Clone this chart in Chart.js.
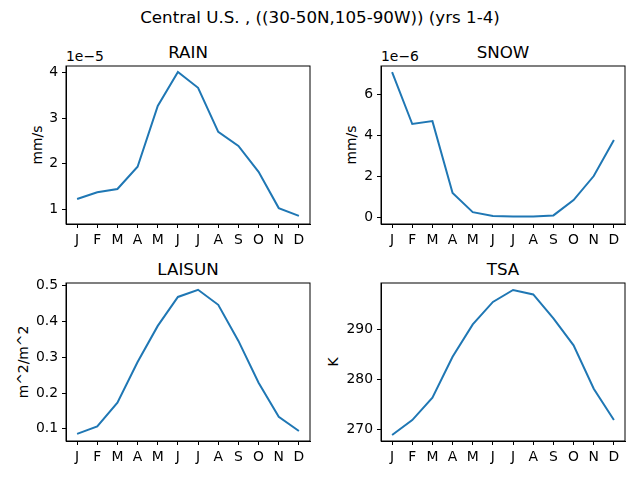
<!DOCTYPE html>
<html>
<head>
<meta charset="utf-8">
<script src="https://cdn.jsdelivr.net/npm/chart.js@4/dist/chart.umd.min.js"></script>
<style>
  body { margin: 0; background: #fff; }
  #wrap { position: relative; width: 640px; height: 480px; font-family: 'DejaVu Sans', sans-serif; color: #000; }
  canvas { position: absolute; left: 0; top: 0; }
  .t { position: absolute; white-space: nowrap; transform: translate(-50%, -50%); }
  .e { position: absolute; white-space: nowrap; font-size: 13.9px; transform: translateY(-50%); }
  .yl { position: absolute; white-space: nowrap; font-size: 13.9px; transform: translate(-50%, -50%) rotate(-90deg); }
</style>
</head>
<body>
<div id="wrap">
  <div class="t" style="left:320px;top:17px;font-size:16.7px">Central U.S. , ((30-50N,105-90W)) (yrs 1-4)</div>
  <div class="t" style="left:188px;top:52px;font-size:16.7px">RAIN</div>
  <div class="t" style="left:503px;top:52px;font-size:16.7px">SNOW</div>
  <div class="t" style="left:188px;top:269px;font-size:16.7px">LAISUN</div>
  <div class="t" style="left:503px;top:269px;font-size:16.7px">TSA</div>
  <div class="e" style="left:66px;top:56px">1e−5</div>
  <div class="e" style="left:381px;top:56px">1e−6</div>
  <div class="yl" style="left:37px;top:145px">mm/s</div>
  <div class="yl" style="left:351px;top:145px">mm/s</div>
  <div class="yl" style="left:23px;top:362px">m^2/m^2</div>
  <div class="yl" style="left:333px;top:362px">K</div>
  <canvas id="c0" width="640" height="480"></canvas>
  <canvas id="c1" width="640" height="480"></canvas>
  <canvas id="c2" width="640" height="480"></canvas>
  <canvas id="c3" width="640" height="480"></canvas>
</div>
<script>
; (function () {
    'use strict'

    // ── Data ───────────────────────────────────────────────────────────────────
    const months = ['J', 'F', 'M', 'A', 'M', 'J', 'J', 'A', 'S', 'O', 'N', 'D']
    const rain = [1.22e-5, 1.37e-5, 1.44e-5, 1.93e-5, 3.27e-5, 4.02e-5, 3.67e-5, 2.70e-5, 2.39e-5, 1.82e-5, 1.02e-5, 0.85e-5]
    const snow = [7.07e-6, 4.54e-6, 4.68e-6, 1.17e-6, 0.24e-6, 0.05e-6, 0.03e-6, 0.03e-6, 0.08e-6, 0.83e-6, 2.0e-6, 3.76e-6]
    const laisun = [0.086, 0.107, 0.173, 0.287, 0.388, 0.469, 0.489, 0.447, 0.346, 0.229, 0.134, 0.094]
    const tsa = [268.8, 271.8, 276.3, 284.5, 291.0, 295.5, 297.9, 297.0, 292.2, 286.8, 278.1, 271.8]

    const frame = {
        id: 'frame',
        afterDraw(chart) {
            const a = chart.chartArea, ctx = chart.ctx
            ctx.save(); ctx.strokeStyle = '#000'; ctx.lineWidth = 1
            ctx.strokeRect(a.left, a.top, a.right - a.left, a.bottom - a.top)
            ctx.restore()
        }
    }

    const tickFont = { family: 'DejaVu Sans', size: 13.9 }

    function panel(id, values, pad, y) {
        new Chart(document.getElementById(id), {
            type: 'line',
            data: {
                labels: months.map((m, i) => i),
                datasets: [{
                    data: values.map((v, i) => ({ x: i, y: v })),
                    borderColor: '#1f77b4', borderWidth: 2,
                    pointRadius: 0, tension: 0, fill: false
                }]
            },
            options: {
                responsive: false, animation: false, events: [],
                layout: { padding: pad },
                plugins: { legend: { display: false }, tooltip: { enabled: false } },
                scales: {
                    x: {
                        type: 'linear', min: -0.55, max: 11.55,
                        afterBuildTicks: s => { s.ticks = months.map((m, i) => ({ value: i })) },
                        afterFit: s => { s.height = 30 },
                        ticks: { color: '#000', font: tickFont, callback: v => months[v], maxRotation: 0, autoSkip: false, padding: 4 },
                        grid: { drawOnChartArea: false, tickLength: 4, color: '#000' },
                        border: { color: '#000' }
                    },
                    y: {
                        min: y.min, max: y.max,
                        afterBuildTicks: s => { s.ticks = y.ticks.map(v => ({ value: v })) },
                        afterFit: s => { s.width = 50 },
                        ticks: { color: '#000', font: tickFont, callback: y.fmt, padding: 4 },
                        grid: { drawOnChartArea: false, tickLength: 4, color: '#000' },
                        border: { color: '#000' }
                    }
                }
            },
            plugins: [frame]
        })
    }

    // padding so chart areas land at left 66/381, top 66/283
    const L = { left: 16, right: 330 }, R = { left: 331, right: 15 }
    const T = { top: 66, bottom: 226 }, B = { top: 283, bottom: 9 }

    panel('c0', rain, { ...L, ...T }, { min: 0.67e-5, max: 4.15e-5, ticks: [1e-5, 2e-5, 3e-5, 4e-5], fmt: v => Math.round(v / 1e-5) })
    panel('c1', snow, { ...R, ...T }, { min: -0.34e-6, max: 7.37e-6, ticks: [0, 2e-6, 4e-6, 6e-6], fmt: v => Math.round(v / 1e-6) })
    panel('c2', laisun, { ...L, ...B }, { min: 0.066, max: 0.508, ticks: [0.1, 0.2, 0.3, 0.4, 0.5], fmt: v => v.toFixed(1) })
    panel('c3', tsa, { ...R, ...B }, { min: 267.6, max: 299.3, ticks: [270, 280, 290], fmt: v => v.toFixed(0) })
})()
</script>
</body>
</html>
